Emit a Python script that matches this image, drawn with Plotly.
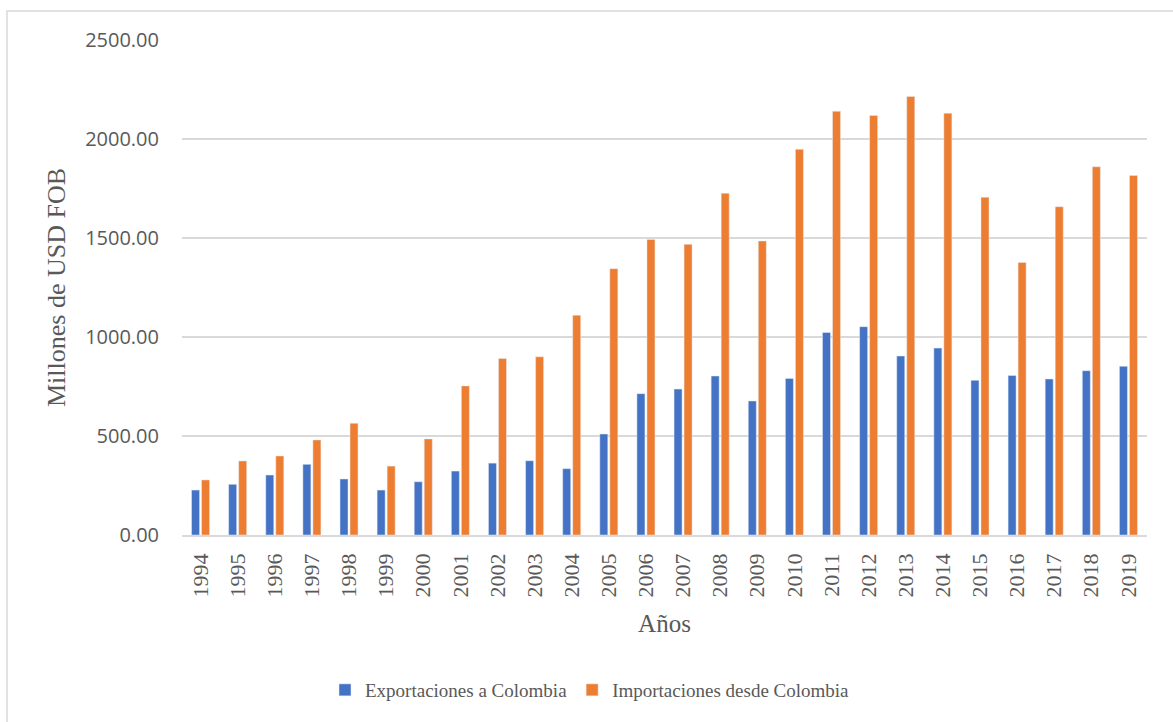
import plotly.graph_objects as go

years = [str(y) for y in range(1994, 2020)]
exportaciones = [227, 256, 303, 357, 283, 227, 269, 323, 363, 375, 335, 510, 714, 737, 803, 677,
                 791, 1023, 1052, 904, 944, 781, 806, 788, 830, 852]
importaciones = [278, 374, 399, 480, 564, 348, 485, 753, 891, 900, 1110, 1345, 1493, 1468, 1726, 1485,
                 1948, 2140, 2119, 2215, 2130, 1706, 1376, 1658, 1860, 1816]
y_ticks = [0, 500, 1000, 1500, 2000, 2500]

W, H = 1173, 722
ml, mr, mt, mb = 182, 26, 40, 187
pw, ph = W - ml - mr, H - mt - mb

serif = "Liberation Serif, Times New Roman, serif"
gray = "#595959"

fig = go.Figure()
fig.add_trace(go.Bar(x=years, y=exportaciones, name="Exportaciones a Colombia",
                     marker=dict(color="#4472C4")))
fig.add_trace(go.Bar(x=years, y=importaciones, name="Importaciones desde Colombia",
                     marker=dict(color="#ED7D31")))

def px(xp):
    return (xp - ml) / pw

def py(yp):
    return (H - mb - yp) / ph

fig.update_layout(
    width=W, height=H,
    margin=dict(l=ml, r=mr, t=mt, b=mb),
    paper_bgcolor="white", plot_bgcolor="white",
    barmode="group", bargap=0.46, bargroupgap=0.2,
    showlegend=True,
    legend=dict(orientation="h", x=px(590), xanchor="center", y=py(690), yanchor="middle",
                font=dict(family=serif, size=19, color=gray), itemwidth=30,
                traceorder="normal"),
    xaxis=dict(type="category", tickangle=-90, showgrid=False, showline=True,
               linecolor="#d9d9d9", linewidth=1.5, ticks="",
               tickfont=dict(family=serif, size=22, color=gray),
               ticklabelstandoff=8,
               title=dict(text="Años", font=dict(family=serif, size=25, color=gray), standoff=18)),
    yaxis=dict(range=[0, 2500], tickvals=y_ticks, tickformat=".2f", showgrid=True,
               gridcolor="#d9d9d9", gridwidth=1.5, zeroline=False, ticks="",
               tickfont=dict(family="Open Sans, sans-serif", size=20, color=gray),
               ticklabelstandoff=22,
               title=dict(text="Millones de USD FOB", font=dict(family=serif, size=26, color=gray),
                          standoff=12)),
    shapes=[dict(type="rect", xref="paper", yref="paper",
                 x0=px(7), x1=px(1185), y0=py(740), y1=py(11),
                 line=dict(color="#d9d9d9", width=1.5), fillcolor="rgba(0,0,0,0)", layer="below")],
)

fig.write_html("out.html")
